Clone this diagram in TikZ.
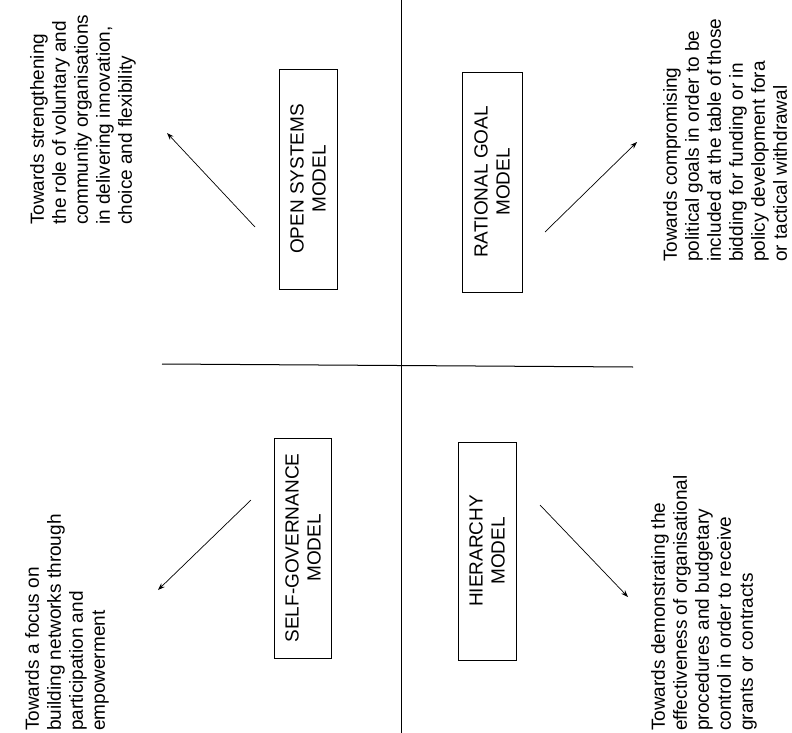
\documentclass[tikz,border=0pt]{standalone}
\usepackage{fontspec}
\setmainfont{Liberation Sans}
\usetikzlibrary{arrows.meta}

\begin{document}
\begin{tikzpicture}[x=1pt, y=-1pt,
        model/.style={draw, rotate=90, align=center, inner sep=0pt, line width=0.8pt, font=\fontsize{19}{22}\selectfont},
        toward/.style={rotate=90, align=left, anchor=north west, inner sep=0pt, font=\fontsize{19}{22}\selectfont},
        pijl/.style={-{Stealth[length=7pt, width=5pt]}, line width=0.7pt}
    ]
        \useasboundingbox (0,0) rectangle (792,733);
        % axes
        \coordinate (north) at (401,0);
        \coordinate (south) at (401,733);
        \coordinate (west) at (162,364);
        \coordinate (east) at (633,367);
        \draw[line width=1pt] (north) -- (south);
        \draw[line width=1pt] (west) -- (east);
        % models
        \node[model, minimum width=220pt, minimum height=58pt] (open) at (308,179) {OPEN SYSTEMS\\MODEL};
        \node[model, minimum width=220pt, minimum height=60pt] (rational) at (492,182) {RATIONAL GOAL\\MODEL};
        \node[model, minimum width=220pt, minimum height=57pt] (selfgov) at (303,548) {SELF-GOVERNANCE\\MODEL};
        \node[model, minimum width=218pt, minimum height=58pt] (hierarchy) at (487,551) {HIERARCHY\\MODEL};
        % directions
        \node[toward] (tl) at (30,225) {Towards strengthening\\the role of voluntary and\\community organisations\\in delivering innovation,\\choice and flexibility};
        \node[toward] (tr) at (663,262) {Towards compromising\\political goals in order to be\\included at the table of those\\bidding for funding or in\\policy development fora\\or tactical withdrawal};
        \node[toward] (bl) at (25,731) {Towards a focus on\\building networks through\\participation and\\empowerment};
        \node[toward] (br) at (651,731) {Towards demonstrating the\\effectiveness of organisational\\procedures and budgetary\\control in order to receive\\grants or contracts};
        % arrows
        \coordinate (open-a) at (255,227);
        \coordinate (open-b) at (167,133);
        \coordinate (rational-a) at (545,232);
        \coordinate (rational-b) at (637,142);
        \coordinate (selfgov-a) at (251,500);
        \coordinate (selfgov-b) at (158,590);
        \coordinate (hierarchy-a) at (540,505);
        \coordinate (hierarchy-b) at (628,597);
        \draw[pijl] (open-a) -- (open-b);
        \draw[pijl] (rational-a) -- (rational-b);
        \draw[pijl] (selfgov-a) -- (selfgov-b);
        \draw[pijl] (hierarchy-a) -- (hierarchy-b);
    \end{tikzpicture}
\end{document}
